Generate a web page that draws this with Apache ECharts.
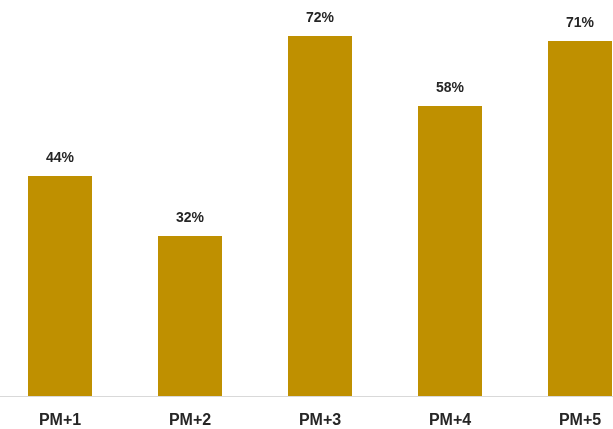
<!DOCTYPE html>
<html>
<head>
<meta charset="utf-8">
<script src="https://cdn.jsdelivr.net/npm/echarts@6/dist/echarts.min.js"></script>
<style>
html,body{margin:0;padding:0;background:#fff;overflow:hidden;width:613px;height:429px;}
#wrap{position:relative;width:613px;height:429px;overflow:hidden;}
#chart{position:absolute;left:-5.5px;top:0;width:650px;height:429px;}
</style>
</head>
<body>
<div id="wrap"><div id="chart"></div></div>
<script>
const categories = ['PM+1', 'PM+2', 'PM+3', 'PM+4', 'PM+5'];
const values = [44, 32, 72, 58, 71];

const chart = echarts.init(document.getElementById('chart'), null, {renderer: 'canvas'});
chart.setOption({
  animation: false,
  backgroundColor: '#ffffff',
  grid: {left: 0, right: 0, top: 0, bottom: 33, containLabel: false},
  xAxis: {
    type: 'category',
    data: categories,
    axisLine: {show: true, lineStyle: {color: '#d9d9d9', width: 1}},
    axisTick: {show: false},
    axisLabel: {
      margin: 17,
      fontFamily: 'Liberation Sans',
      fontWeight: 'bold',
      fontSize: 16,
      color: '#262626'
    }
  },
  yAxis: {
    type: 'value',
    min: 0,
    max: 79.2,
    show: false,
    splitLine: {show: false}
  },
  series: [{
    type: 'bar',
    data: values,
    barWidth: 64,
    itemStyle: {color: '#BF9000'},
    label: {
      show: true,
      position: 'top',
      distance: 11,
      formatter: '{c}%',
      fontFamily: 'Liberation Sans',
      fontWeight: 'bold',
      fontSize: 14,
      color: '#262626'
    }
  }]
});
</script>
</body>
</html>
